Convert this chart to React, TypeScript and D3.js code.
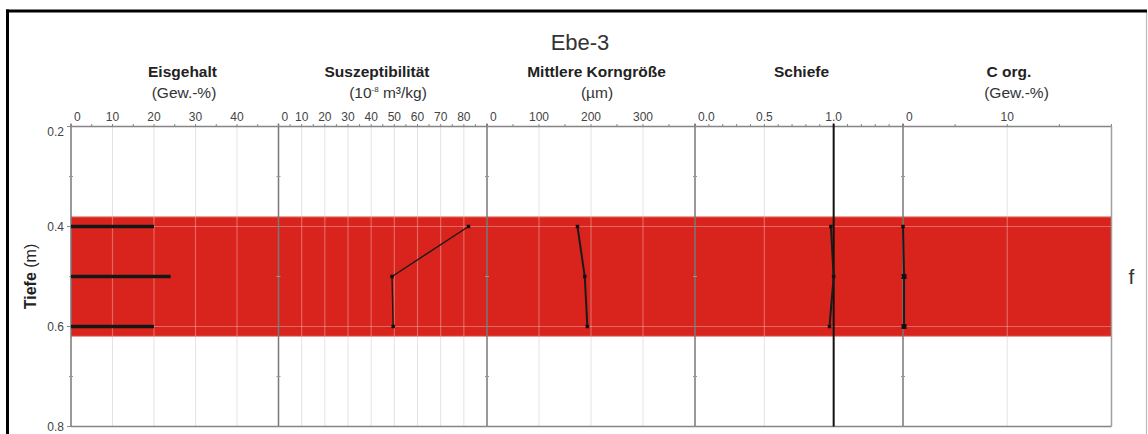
import React, { useEffect } from "react";
import * as d3 from "d3";

// ---- data ----
const chartTitle = "Ebe-3";
const depths = [0.4, 0.5, 0.6];
const eisgehalt = [20, 24, 20];
const suszeptibilitaet = [82, 49, 49.5];
const korngroesse = [174, 188, 193];
const schiefe = [0.98, 1.0, 0.97];
const corg = [0, 0.1, 0.1];
const bandDepth = [0.38, 0.62];
const bandLabel = "f";
const depthTicks = [0.2, 0.4, 0.6, 0.8];
const depthMinorTicks = [0.3, 0.5, 0.7];

const panelTitles = ["Eisgehalt", "Suszeptibilität", "Mittlere Korngröße", "Schiefe", "C org."];
const panelDomains: [number, number][] = [[0, 50], [0, 90], [0, 400], [0, 1.5], [0, 20]];
const panelTicks = [
  [0, 10, 20, 30, 40],
  [0, 10, 20, 30, 40, 50, 60, 70, 80],
  [0, 100, 200, 300],
  [0, 0.5, 1.0],
  [0, 10],
];
const panelMinorStep = [5, 5, 50, 0.1, 5];
const panelTickFormat = ["d", "d", "d", ".1f", "d"];

// ---- layout ----
const W = 1148, H = 434;
const edges = [71, 278.5, 487, 695, 903, 1111.5];
const plotTop = 126.5, plotBottom = 426.5;
const titleX = [182.5, 377, 596.5, 801.5, 1009];
const unitX = [184, 388, 597, null, 1016.5];

const font = "'Liberation Sans', Arial, Helvetica, sans-serif";
const RED = "#d8241c";
const AXIS = "#858585";

function Units({ i }: { i: number }) {
  const x = unitX[i];
  if (x == null) return null;
  const common = { x, y: 98, textAnchor: "middle" as const, fontSize: 15.5, fill: "#333", fontFamily: font };
  if (i === 0 || i === 4) return <text {...common}>(Gew.-%)</text>;
  if (i === 2) return <text {...common}>(µm)</text>;
  return (
    <text {...common}>
      (10<tspan fontSize={8} dy={-6}>-8</tspan>
      <tspan dy={6}> m³/kg)</tspan>
    </text>
  );
}

export default function App() {
  useEffect(() => {
    document.body.style.margin = "0";
  }, []);

  const y = d3.scaleLinear().domain([0.2, 0.8]).range([plotTop, plotBottom]);
  const xs = panelDomains.map((dom, i) =>
    d3.scaleLinear().domain(dom).range([edges[i], edges[i + 1]])
  );
  const series = [eisgehalt, suszeptibilitaet, korngroesse, schiefe, corg];
  const line = (sx: d3.ScaleLinear<number, number>, vals: number[]) =>
    d3.line<number>().x((v) => sx(v)).y((_, j) => y(depths[j]))(vals) as string;

  const gridLines: { x: number }[] = [];
  xs.forEach((sx, i) => {
    panelTicks[i].forEach((t) => {
      if (t === 0) return;
      if (i === 3 && t === 1.0) return;
      gridLines.push({ x: sx(t) });
    });
  });

  return (
    <svg width={W} height={H} style={{ display: "block", background: "#fff" }} fontFamily={font}>
      {/* outer frame */}
      <line x1={1146.5} x2={1146.5} y1={11} y2={H} stroke="#bbb" strokeWidth={1.2} />
      <line x1={7.5} x2={7.5} y1={9.5} y2={H} stroke="#000" strokeWidth={3} />
      <line x1={6} x2={1147} y1={11} y2={11} stroke="#000" strokeWidth={3} />

      {/* title */}
      <text x={580} y={49.5} textAnchor="middle" fontSize={22} fill="#333">{chartTitle}</text>

      {/* panel titles */}
      {panelTitles.map((t, i) => (
        <text key={t} x={titleX[i]} y={76.5} textAnchor="middle" fontSize={15.5} fontWeight="bold" fill="#222">{t}</text>
      ))}
      {panelTitles.map((t, i) => <Units key={"u" + t} i={i} />)}

      {/* grid under band */}
      {gridLines.map((g, k) => (
        <line key={"g" + k} x1={g.x} x2={g.x} y1={plotTop} y2={plotBottom} stroke="#e3e3e3" strokeWidth={1} />
      ))}

      {/* red band */}
      <rect x={edges[0]} width={edges[5] - edges[0]} y={y(bandDepth[0])} height={y(bandDepth[1]) - y(bandDepth[0])} fill={RED} />
      <line x1={edges[0]} x2={edges[5]} y1={y(bandDepth[0]) + 0.5} y2={y(bandDepth[0]) + 0.5} stroke="rgba(255,255,255,0.3)" />
      <line x1={edges[0]} x2={edges[5]} y1={y(bandDepth[1]) - 0.5} y2={y(bandDepth[1]) - 0.5} stroke="rgba(255,255,255,0.15)" />

      {/* grid over band */}
      {gridLines.map((g, k) => (
        <line key={"gb" + k} x1={g.x} x2={g.x} y1={y(bandDepth[0])} y2={y(bandDepth[1])} stroke="rgba(255,255,255,0.3)" strokeWidth={1.2} />
      ))}
      {depthTicks.filter((d) => d > bandDepth[0] && d < bandDepth[1]).map((d) => (
        <line key={"h" + d} x1={edges[0]} x2={edges[5]} y1={y(d)} y2={y(d)} stroke="rgba(255,255,255,0.3)" strokeWidth={1.2} />
      ))}

      {/* top axis + ticks */}
      <line x1={edges[0]} x2={edges[5]} y1={plotTop} y2={plotTop} stroke={AXIS} strokeWidth={1.5} />
      <line x1={edges[0]} x2={edges[5]} y1={plotBottom} y2={plotBottom} stroke={AXIS} strokeWidth={1.5} />
      {xs.map((sx, i) => {
        const [a, b] = panelDomains[i];
        const minors = d3.range(a, b + 1e-9, panelMinorStep[i]);
        const fmt = d3.format(panelTickFormat[i]);
        return (
          <g key={"ax" + i}>
            {minors.map((m, k) => (
              <line key={k} x1={sx(m)} x2={sx(m)} y1={plotTop - 2.5} y2={plotTop} stroke={AXIS} strokeWidth={1} />
            ))}
            {panelTicks[i].map((t, k) => (
              <text key={"l" + k} x={k === 0 ? sx(t) + 3 : sx(t)} y={121} textAnchor={k === 0 ? "start" : "middle"} fontSize={12} fill="#444">
                {fmt(t)}
              </text>
            ))}
          </g>
        );
      })}

      {/* panel separators & left axis */}
      {edges.map((e, i) => (
        <g key={"e" + i}>
          <line x1={e} x2={e} y1={i === 5 ? plotTop : plotTop - 3} y2={plotBottom} stroke={i === 5 ? "#a0a0a0" : "#777"} strokeWidth={1.5} />
          {i < 5 && depthMinorTicks.map((d) => (
            <line key={d} x1={e - 2} x2={e + 2} y1={y(d)} y2={y(d)} stroke="#999" strokeWidth={1} />
          ))}
          {i < 5 && depthTicks.map((d) => (
            <line key={"M" + d} x1={e - (i === 0 ? 4 : 2)} x2={e + 2} y1={y(d)} y2={y(d)} stroke="#888" strokeWidth={1} />
          ))}
        </g>
      ))}

      {/* Schiefe reference line at 1.0 */}
      <line x1={xs[3](1.0)} x2={xs[3](1.0)} y1={plotTop - 3} y2={plotBottom} stroke="#111" strokeWidth={2} />

      {/* depth labels */}
      {depthTicks.map((d, k) => (
        <text key={"yl" + d} x={64} y={y(d) + (k === 0 ? 9 : 4)} textAnchor="end" fontSize={12} fill="#444">
          {d.toFixed(1)}
        </text>
      ))}
      <text transform={`translate(35.5,${y(0.5)}) rotate(-90)`} textAnchor="middle" fontSize={16} fill="#222">
        <tspan fontWeight="bold">Tiefe</tspan>
        <tspan> (m)</tspan>
      </text>

      {/* Eisgehalt bars */}
      {eisgehalt.map((v, j) => (
        <line key={"eb" + j} x1={xs[0](0)} x2={xs[0](v)} y1={y(depths[j])} y2={y(depths[j])} stroke="#161616" strokeWidth={3.5} />
      ))}

      {/* profile lines */}
      {[1, 2, 3, 4].map((i) => (
        <g key={"s" + i}>
          <path d={line(xs[i], series[i])} fill="none" stroke="#1a1a1a" strokeWidth={i === 1 ? 1.4 : 2} />
          {series[i].map((v, j) => {
            const s = i === 4 && j > 0 ? 5 : 3.5;
            return <rect key={j} x={xs[i](v) - s / 2} y={y(depths[j]) - s / 2} width={s} height={s} fill="#111" />;
          })}
        </g>
      ))}

      {/* facies label */}
      <text x={1131.5} y={y(0.5) + 7} textAnchor="middle" fontSize={21} fill="#333">{bandLabel}</text>
    </svg>
  );
}
